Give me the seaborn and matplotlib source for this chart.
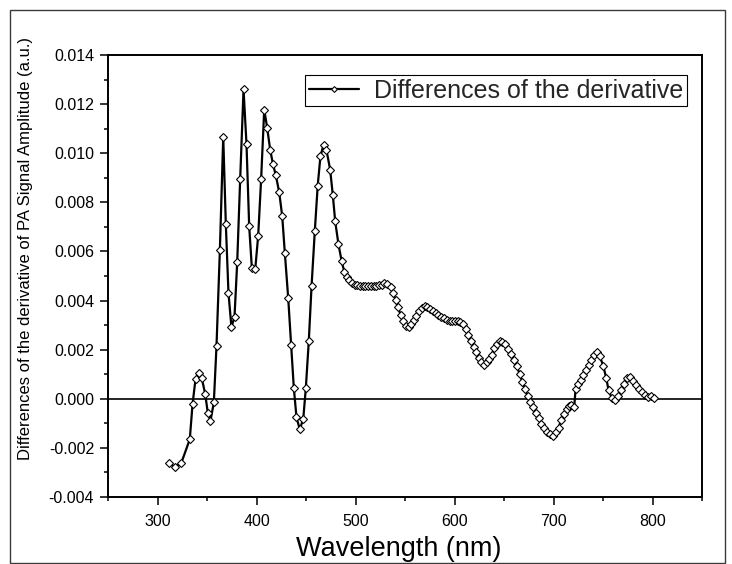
import matplotlib
matplotlib.use("Agg")
import matplotlib.pyplot as plt
import seaborn as sns
import pandas as pd
from matplotlib.patches import Rectangle
from matplotlib.ticker import FixedLocator, MultipleLocator, FuncFormatter

# Wavelength (nm) of each sample
wavelength = [
    311.4, 317.5, 324.0, 332.6, 335.4, 338.4, 341.7, 344.8, 348.2, 350.8,
    353.5, 356.9, 359.6, 363.0, 366.4, 369.0, 371.7, 374.7, 377.8, 380.5,
    383.5, 386.9, 389.9, 392.6, 395.3, 398.7, 401.7, 404.7, 407.8, 410.8,
    413.8, 416.5, 419.5, 422.9, 426.0, 428.6, 432.0, 435.0, 437.7, 440.4,
    443.7, 447.2, 449.8, 452.8, 455.6, 458.9, 461.8, 464.6, 467.7, 470.7,
    474.4, 477.1, 479.5, 482.8, 485.9, 488.6, 491.2, 493.9, 496.6, 499.3,
    502.0, 504.7, 507.4, 510.1, 512.8, 515.5, 518.2, 520.9, 523.6, 526.3,
    529.0, 531.7, 535.4, 537.8, 540.5, 542.8, 545.5, 547.9, 550.6, 553.6,
    556.3, 559.0, 561.4, 564.1, 566.8, 569.8, 572.5, 575.2, 578.2, 580.9,
    583.6, 586.6, 589.3, 592.0, 595.0, 597.7, 600.4, 603.1, 605.8, 608.5,
    611.2, 613.9, 616.9, 619.6, 622.0, 624.7, 627.0, 629.7, 632.4, 635.1,
    637.5, 640.2, 642.5, 645.5, 648.2, 650.8, 654.0, 657.3, 660.4, 663.0,
    665.7, 668.4, 671.1, 673.8, 676.5, 679.2, 682.2, 684.9, 687.6, 690.3,
    693.3, 696.3, 699.4, 702.4, 705.1, 707.8, 710.5, 713.2, 715.6, 717.9,
    720.9, 722.3, 725.0, 727.7, 730.0, 732.7, 735.4, 738.1, 740.8, 743.8,
    746.5, 750.2, 753.3, 755.6, 758.7, 762.0, 765.1, 768.1, 771.2, 774.2,
    777.2, 779.9, 782.9, 786.0, 789.0, 792.0, 795.1, 798.1, 801.1,
]

# Differences of the derivative of the PA signal amplitude (a.u.)
difference = [
    -0.00260, -0.00278, -0.00262, -0.00165, -0.00022, 0.00080, 0.00107, 0.00083, 0.00019, -0.00057,
    -0.00090, -0.00015, 0.00215, 0.00604, 0.01067, 0.00713, 0.00430, 0.00291, 0.00335, 0.00555,
    0.00893, 0.01260, 0.01037, 0.00703, 0.00533, 0.00527, 0.00664, 0.00897, 0.01178, 0.01103,
    0.01015, 0.00958, 0.00910, 0.00842, 0.00743, 0.00595, 0.00412, 0.00219, 0.00044, -0.00076,
    -0.00124, -0.00083, 0.00042, 0.00234, 0.00458, 0.00683, 0.00867, 0.00988, 0.01034, 0.01012,
    0.00933, 0.00829, 0.00722, 0.00629, 0.00563, 0.00518, 0.00495, 0.00482, 0.00471, 0.00465,
    0.00462, 0.00461, 0.00460, 0.00459, 0.00459, 0.00459, 0.00460, 0.00460, 0.00462, 0.00465,
    0.00471, 0.00468, 0.00454, 0.00431, 0.00404, 0.00373, 0.00343, 0.00318, 0.00298, 0.00291,
    0.00305, 0.00321, 0.00339, 0.00356, 0.00370, 0.00377, 0.00373, 0.00366, 0.00356, 0.00350,
    0.00343, 0.00335, 0.00328, 0.00322, 0.00318, 0.00316, 0.00316, 0.00316, 0.00314, 0.00305,
    0.00284, 0.00261, 0.00237, 0.00212, 0.00189, 0.00165, 0.00148, 0.00139, 0.00148, 0.00162,
    0.00180, 0.00205, 0.00223, 0.00236, 0.00231, 0.00222, 0.00203, 0.00182, 0.00158, 0.00132,
    0.00101, 0.00069, 0.00040, 0.00012, -0.00012, -0.00035, -0.00058, -0.00079, -0.00101, -0.00121,
    -0.00135, -0.00144, -0.00151, -0.00137, -0.00117, -0.00086, -0.00060, -0.00042, -0.00029, -0.00024,
    -0.00035, 0.00040, 0.00060, 0.00078, 0.00098, 0.00117, 0.00137, 0.00158, 0.00178, 0.00192,
    0.00176, 0.00135, 0.00084, 0.00035, 0.00005, -0.00005, 0.00012, 0.00035, 0.00062, 0.00083,
    0.00087, 0.00073, 0.00056, 0.00040, 0.00026, 0.00015, 0.00008, 0.00012, 0.00003,
]

x_ticks = [300, 400, 500, 600, 700, 800]
y_ticks = [-0.004, -0.002, 0.000, 0.002, 0.004, 0.006, 0.008, 0.010, 0.012, 0.014]
series_label = "Differences of the derivative"
x_title = "Wavelength (nm)"
y_title = "Differences of the derivative of PA Signal Amplitude (a.u.)"

df = pd.DataFrame({"wavelength": wavelength, "difference": difference})

sns.set_theme(style="white")
plt.rcParams["font.family"] = ["Liberation Sans", "DejaVu Sans"]

W, H = 732, 564
fig = plt.figure(figsize=(W / 100, H / 100), dpi=100)
fig.patch.set_facecolor("white")
ax = fig.add_axes([108 / W, 67 / H, 594 / W, 442 / H])

ax.axhline(0, color="black", lw=1.2, zorder=1.5)

sns.lineplot(
    data=df, x="wavelength", y="difference", ax=ax, sort=False,
    color="black", linewidth=1.6, marker="D", markersize=4.5,
    markerfacecolor="white", markeredgecolor="black", markeredgewidth=0.8,
    label=series_label, errorbar=None, zorder=3,
)

ax.set_xlim(250, 850)
ax.set_ylim(-0.004, 0.014)
ax.xaxis.set_major_locator(FixedLocator(x_ticks))
ax.xaxis.set_minor_locator(MultipleLocator(50))
ax.yaxis.set_major_locator(FixedLocator(y_ticks))
ax.yaxis.set_minor_locator(MultipleLocator(0.001))
ax.xaxis.set_major_formatter(FuncFormatter(lambda v, p: f"{v:.0f}"))
ax.yaxis.set_major_formatter(FuncFormatter(lambda v, p: f"{round(v, 3) + 0.0:.3f}"))

ax.tick_params(which="major", direction="out", length=6, width=1.1,
               labelsize=11.5, color="black", labelcolor="black", pad=4,
               left=True, bottom=True, top=False, right=False)
ax.tick_params(axis="x", which="major", pad=6)
ax.tick_params(which="minor", direction="out", length=3, width=1.1,
               color="black", left=True, bottom=True, top=False, right=False)

for s in ax.spines.values():
    s.set_color("black")
    s.set_linewidth(1.4)

ax.set_xlabel(x_title, fontsize=19.5, color="black", va="center")
ax.xaxis.set_label_coords((399 - 108) / 594, (497 - 549) / 442)
ax.set_ylabel(y_title, fontsize=12, color="black", va="center")
ax.yaxis.set_label_coords((26 - 108) / 594, (497 - 248) / 442)

leg = ax.legend(loc="upper right", bbox_to_anchor=(0.975, 0.955),
                borderaxespad=0, fontsize=18, frameon=True, fancybox=False,
                edgecolor="black", framealpha=1, handlelength=2.0,
                borderpad=0.15, handletextpad=0.6, markerscale=0.65)
leg.get_frame().set_linewidth(0.8)

# thin frame around the whole figure
fig.add_artist(Rectangle((9.5 / W, 1 / H), (725 - 9.5) / W, (554.5 - 1) / H,
                         transform=fig.transFigure, fill=False,
                         edgecolor="#3a3a3a", lw=1.0))

fig.savefig("out.png", dpi=100, facecolor="white")
